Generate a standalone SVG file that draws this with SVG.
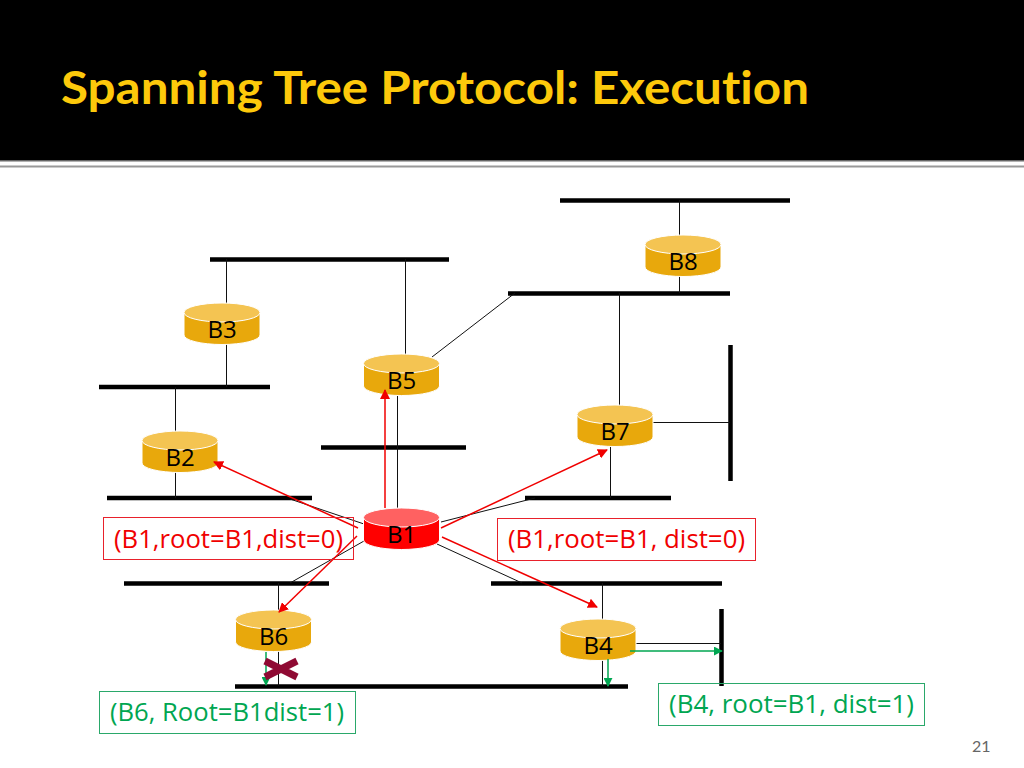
<svg xmlns="http://www.w3.org/2000/svg" width="1024" height="768" viewBox="0 0 1024 768">
<style>
.bar{stroke:#000;stroke-width:4.500;fill:none}
.thin{stroke:#111;stroke-width:1;fill:none}
.red{stroke:#f00000;stroke-width:1.500;fill:none;marker-end:url(#ar)}
.grn{stroke:#00a651;stroke-width:1.500;fill:none;marker-end:url(#ag)}
.body{fill:#e8a80c;stroke:#fff;stroke-width:1}
.top{fill:#f4c452;stroke:#fff;stroke-width:1}
.body.root{fill:#ff0000}
.top.root{fill:#ff6161}
.lbl{font-family:"Open Sans","DejaVu Sans",sans-serif;font-size:24px;fill:#000;text-anchor:middle}
.note{font-family:"Open Sans","DejaVu Sans",sans-serif;font-size:25px}
.box{fill:none;stroke-width:1}
</style>
<defs>
<marker id="ar" viewBox="0 0 10 10" refX="9" refY="5" markerWidth="10" markerHeight="10" orient="auto" markerUnits="userSpaceOnUse"><path d="M0 0L10 5L0 10z" fill="#f00000"/></marker>
<marker id="ag" viewBox="0 0 10 10" refX="9" refY="5" markerWidth="9" markerHeight="9" orient="auto" markerUnits="userSpaceOnUse"><path d="M0 0L10 5L0 10z" fill="#00a651"/></marker>
<path id="cyl-b" d="M0 9.500V32A38 9.500 0 0 0 76 32V9.500z"/>
</defs>
<rect width="1024" height="768" fill="#fff"/>
<g id="header">
<rect width="1024" height="160" fill="#000"/>
<rect y="160" width="1024" height="1.500" fill="#666"/>
<rect y="165.500" width="1024" height="2" fill="#999"/>
<text x="61" y="104" font-family="Lato,'Open Sans',sans-serif" font-weight="700" font-size="45" fill="#fdc90b" textLength="748" lengthAdjust="spacingAndGlyphs" style="font-variant-ligatures:none">Spanning Tree Protocol: Execution</text>
</g>
<g id="connectors">
<path class="bar" d="M560 200.500H790M210 259.500H449M508 293.500H730M99 387H270M321 447.500H466M107 498H312M525 498H671M124 583.500H329M491 583.500H722M235 686.500H628M730.500 345V481M721.500 609V686"/>
<path class="thin" d="M679.500 200V236M679.500 276V293M226.500 259V305M226.500 344V387M405.500 259V355M175.500 387V432M175.500 472V498M432 357L515 293M619.500 293V406M653 422.500H730M610.500 447V498M397.500 396V508M290 499L364 524M441 522L535 498M364 541L290 583M437 544L522 583M278.500 583V611M602.500 583V620M278.500 651V686M602.500 660V686M636 643.500H721"/>
</g>
<g id="B8"><use href="#cyl-b" x="645" y="235" class="body"/><ellipse cx="683" cy="244.500" rx="38" ry="9.500" class="top"/><text x="683" y="270" class="lbl">B8</text></g>
<g id="B3"><use href="#cyl-b" x="184" y="303" class="body"/><ellipse cx="222" cy="312.500" rx="38" ry="9.500" class="top"/><text x="222" y="338" class="lbl">B3</text></g>
<g id="B5"><use href="#cyl-b" x="363.500" y="354" class="body"/><ellipse cx="401.500" cy="363.500" rx="38" ry="9.500" class="top"/><text x="401.500" y="389" class="lbl">B5</text></g>
<g id="B7"><use href="#cyl-b" x="577" y="405" class="body"/><ellipse cx="615" cy="414.500" rx="38" ry="9.500" class="top"/><text x="615" y="440" class="lbl">B7</text></g>
<g id="B2"><use href="#cyl-b" x="142" y="431" class="body"/><ellipse cx="180" cy="440.500" rx="38" ry="9.500" class="top"/><text x="180" y="466" class="lbl">B2</text></g>
<g id="B1"><use href="#cyl-b" x="363.500" y="508" class="body root"/><ellipse cx="401.500" cy="517.500" rx="38" ry="9.500" class="top root"/><text x="401.500" y="543" class="lbl">B1</text></g>
<g id="B6"><use href="#cyl-b" x="235.500" y="610" class="body"/><ellipse cx="273.500" cy="619.500" rx="38" ry="9.500" class="top"/><text x="273.500" y="645" class="lbl">B6</text></g>
<g id="B4"><use href="#cyl-b" x="560" y="619" class="body"/><ellipse cx="598" cy="628.500" rx="38" ry="9.500" class="top"/><text x="598" y="654" class="lbl">B4</text></g>
<g id="arrows">
<path class="red" d="M385 508V390"/>
<path class="red" d="M358 528L214 462"/>
<path class="red" d="M357 536L279 612"/>
<path class="red" d="M441 528L607 450"/>
<path class="red" d="M442 537L597 607"/>
<path class="grn" d="M266 652V685"/>
<path class="grn" d="M608 659V686"/>
<path class="grn" d="M630 651H722"/>
</g>
<g id="cross" stroke="#8f0a33" stroke-width="7" fill="none"><path d="M265 677L297 661M265 661L297 677"/></g>
<g id="note-b1-left"><rect class="box" x="103.500" y="517.500" width="250" height="42" stroke="#e8212b"/><text class="note" x="114" y="548" fill="#f00000" textLength="229" lengthAdjust="spacingAndGlyphs">(B1,root=B1,dist=0)</text></g>
<g id="note-b1-right"><rect class="box" x="497.500" y="518.500" width="258" height="42" stroke="#e8212b"/><text class="note" x="508" y="548" fill="#f00000" textLength="237" lengthAdjust="spacingAndGlyphs">(B1,root=B1, dist=0)</text></g>
<g id="note-b6"><rect class="box" x="99.500" y="691.500" width="256" height="42" stroke="#2aa86a"/><text class="note" x="110" y="721" fill="#00a651" textLength="234" lengthAdjust="spacingAndGlyphs">(B6, Root=B1dist=1)</text></g>
<g id="note-b4"><rect class="box" x="658.500" y="683.500" width="266" height="42" stroke="#2aa86a"/><text class="note" x="669" y="713" fill="#00a651" textLength="245" lengthAdjust="spacingAndGlyphs">(B4, root=B1, dist=1)</text></g>
<text x="972" y="752" font-family="Lato,'Open Sans',sans-serif" font-size="16" fill="#666">21</text>
</svg>
